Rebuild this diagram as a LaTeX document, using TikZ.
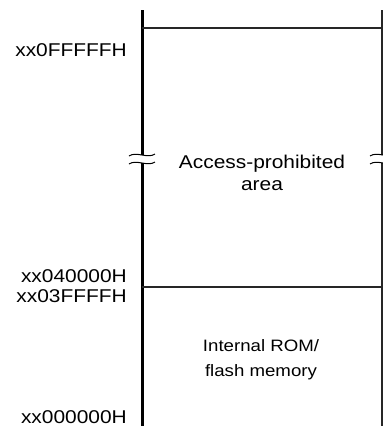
\documentclass[tikz,border=0pt]{standalone}
\usepackage{fontspec}
\setmainfont{Liberation Sans}
\begin{document}
\begin{tikzpicture}[x=1pt,y=-1pt,
  addr/.style={anchor=base east,inner sep=0pt,font=\fontsize{18.5}{22}\selectfont},
  area/.style={align=center,inner sep=0pt,font=\fontsize{18.5}{22}\selectfont},
  areasmall/.style={align=center,inner sep=0pt,font=\fontsize{16.5}{24.5}\selectfont},
  thickline/.style={line width=3pt,black},
  thinline/.style={line width=1.2pt,black!85},
  wave/.style={line width=1pt,black}]
\useasboundingbox (0,0) rectangle (383,426);
\begin{scope}
\clip (0,0) rectangle (383,426);
% coordinates
\coordinate (LT) at (142,10);
\coordinate (LB) at (142,430);
\coordinate (LG1) at (142,155);
\coordinate (LG2) at (142,163);
\coordinate (RT) at (382,10);
\coordinate (RB) at (382,430);
\coordinate (RG1) at (382,155);
\coordinate (RG2) at (382,163);
% vertical lines with breaks
\draw[thickline] (LT) -- (LG1);
\draw[thickline] (LG2) -- (LB);
\draw[thinline] (RT) -- (RG1);
\draw[thinline] (RG2) -- (RB);
% horizontal lines
\coordinate (H1L) at (142,28);
\coordinate (H1R) at (382,28);
\coordinate (H2L) at (142,287);
\coordinate (H2R) at (382,287);
\draw[thinline] (H1L) -- (H1R);
\draw[thinline] (H2L) -- (H2R);
% break marks
\foreach \y in {155,163}{
  \draw[wave] (129,\y+1) .. controls (136,\y-4) and (148,\y+4) .. (155,\y-1);
  \draw[wave] (370,\y+1) .. controls (377,\y-4) and (389,\y+4) .. (396,\y-1);
}
\end{scope}
% address labels
\node[addr] (a1) at (127,56) {\scalebox{1.13}[1]{xx0FFFFFH}};
\node[addr] (a2) at (127,282) {\scalebox{1.13}[1]{xx040000H}};
\node[addr] (a3) at (127,302) {\scalebox{1.13}[1]{xx03FFFFH}};
\node[addr] (a4) at (127,423) {\scalebox{1.13}[1]{xx000000H}};
% area labels
\node[area,anchor=base] (ap) at (262,190) {\scalebox{1.13}[1]{Access-prohibited}\\\scalebox{1.13}[1]{area}};
\node[areasmall,anchor=base] (rom) at (261,376) {\scalebox{1.13}[1]{Internal ROM/}\\\scalebox{1.13}[1]{flash memory}};
\end{tikzpicture}
\end{document}
